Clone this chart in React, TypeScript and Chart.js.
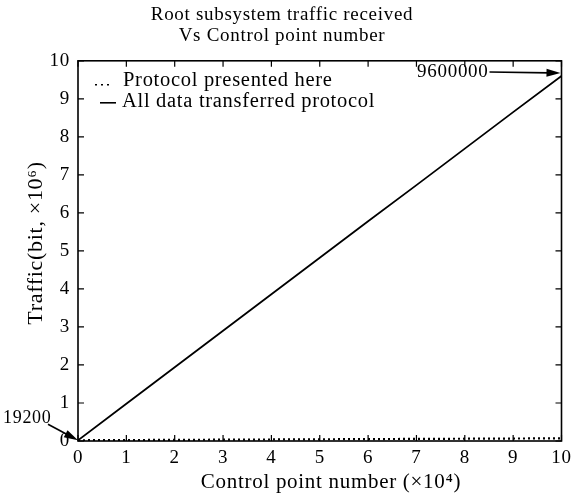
import React, { useEffect, useRef } from "react";
import { Chart, registerables } from "chart.js";

Chart.register(...registerables);

const controlPoints = [0, 1, 2, 3, 4, 5, 6, 7, 8, 9, 10];
const allDataTraffic = [0.0192, 0.98, 1.94, 2.9, 3.86, 4.82, 5.78, 6.73, 7.69, 8.65, 9.6];
const protocolTraffic = [0.0192, 0.025, 0.03, 0.035, 0.04, 0.045, 0.05, 0.055, 0.06, 0.065, 0.07];
const titleLines = ["Root subsystem traffic received", "Vs Control point number"];
const legendLabels = ["Protocol presented here", "All data transferred protocol"];
const xTitle = "Control point number (\u00d710\u2074)";
const yTitle = "Traffic(bit, \u00d710\u2076)";
const endLabel = "9600000";
const startLabel = "19200";

const SERIF = "'Liberation Serif', 'DejaVu Serif', serif";

function arrow(ctx: CanvasRenderingContext2D, x1: number, y1: number, x2: number, y2: number) {
  const ang = Math.atan2(y2 - y1, x2 - x1);
  const hl = 14;
  const hw = 4;
  ctx.beginPath();
  ctx.moveTo(x1, y1);
  ctx.lineTo(x2 - Math.cos(ang) * hl * 0.8, y2 - Math.sin(ang) * hl * 0.8);
  ctx.stroke();
  ctx.beginPath();
  ctx.moveTo(x2, y2);
  ctx.lineTo(x2 - Math.cos(ang) * hl + Math.sin(ang) * hw, y2 - Math.sin(ang) * hl - Math.cos(ang) * hw);
  ctx.lineTo(x2 - Math.cos(ang) * hl - Math.sin(ang) * hw, y2 - Math.sin(ang) * hl + Math.cos(ang) * hw);
  ctx.closePath();
  ctx.fill();
}

const spacingPlugin = {
  id: "spacing",
  beforeDraw(chart: any) {
    (chart.ctx as any).letterSpacing = "0.7px";
  },
};

const framePlugin = {
  id: "frame",
  afterDraw(chart: any) {
    const { ctx, chartArea: a, scales } = chart;
    const xs = scales.x;
    const ys = scales.y;
    ctx.save();
    ctx.strokeStyle = "#000";
    ctx.fillStyle = "#000";
    ctx.lineWidth = 1.6;
    ctx.strokeRect(a.left, a.top, a.right - a.left, a.bottom - a.top);
    ctx.lineWidth = 1.2;
    const tl = 6;
    for (const v of controlPoints) {
      const px = xs.getPixelForValue(v);
      const py = ys.getPixelForValue(v);
      ctx.beginPath();
      ctx.moveTo(px, a.bottom);
      ctx.lineTo(px, a.bottom - tl);
      ctx.moveTo(px, a.top);
      ctx.lineTo(px, a.top + tl);
      ctx.moveTo(a.left, py);
      ctx.lineTo(a.left + tl, py);
      ctx.moveTo(a.right, py);
      ctx.lineTo(a.right - tl, py);
      ctx.stroke();
    }
    // axis titles
    ctx.textBaseline = "middle";
    ctx.textAlign = "center";
    ctx.font = "21px " + SERIF;
    ctx.fillText(xTitle, 331, 482);
    ctx.save();
    ctx.translate(36, 243);
    ctx.rotate(-Math.PI / 2);
    ctx.font = "22px " + SERIF;
    ctx.fillText(yTitle, 0, 0);
    ctx.restore();
    // legend
    ctx.font = "20.5px " + SERIF;
    ctx.textAlign = "left";
    const ly1 = a.top + 20;
    const ly2 = a.top + 41;
    ctx.lineWidth = 1.6;
    ctx.setLineDash([2, 4]);
    ctx.beginPath();
    ctx.moveTo(a.left + 17, ly1 + 4);
    ctx.lineTo(a.left + 32, ly1 + 4);
    ctx.stroke();
    ctx.setLineDash([]);
    ctx.beginPath();
    ctx.moveTo(a.left + 22, ly2 + 1);
    ctx.lineTo(a.left + 38, ly2 + 1);
    ctx.stroke();
    ctx.fillText(legendLabels[0], a.left + 45, ly1);
    ctx.fillText(legendLabels[1], a.left + 44, ly2);
    // annotations
    ctx.lineWidth = 1.6;
    ctx.font = "19px " + SERIF;
    const ex = xs.getPixelForValue(controlPoints[controlPoints.length - 1]);
    const ey = ys.getPixelForValue(allDataTraffic[allDataTraffic.length - 1]);
    ctx.textAlign = "right";
    ctx.fillText(endLabel, ex - 73, ey - 4);
    arrow(ctx, ex - 72, ey - 4, ex - 1, ey - 3);
    const sx = xs.getPixelForValue(controlPoints[0]);
    const sy = ys.getPixelForValue(allDataTraffic[0]);
    ctx.font = "18px " + SERIF;
    ctx.textAlign = "left";
    ctx.fillText(startLabel, 3, sy - 22);
    arrow(ctx, sx - 30, sy - 16, sx, sy);
    ctx.restore();
  },
};

export default function App() {
  const ref = useRef<HTMLCanvasElement | null>(null);
  useEffect(() => {
    if (!ref.current) return;
    const chart = new Chart(ref.current, {
      type: "line",
      data: {
        datasets: [
          {
            label: legendLabels[0],
            data: controlPoints.map((x, i) => ({ x, y: protocolTraffic[i] })),
            borderColor: "#000",
            borderWidth: 2.2,
            borderDash: [2, 3],
            pointRadius: 0,
            fill: false,
          },
          {
            label: legendLabels[1],
            data: controlPoints.map((x, i) => ({ x, y: allDataTraffic[i] })),
            borderColor: "#000",
            borderWidth: 1.8,
            pointRadius: 0,
            fill: false,
          },
        ],
      },
      options: {
        animation: false,
        responsive: true,
        maintainAspectRatio: false,
        layout: { padding: { left: 0, right: 13, top: 0, bottom: 0 } },
        plugins: {
          legend: { display: false },
          tooltip: { enabled: false },
          title: {
            display: true,
            text: titleLines,
            color: "#000",
            font: { family: SERIF, size: 19, weight: "normal", lineHeight: 1.1 },
            padding: { top: 5, bottom: 14 },
          },
        },
        scales: {
          x: {
            type: "linear",
            min: 0,
            max: 10,
            afterFit: (s: any) => {
              s.height = 56;
            },
            grid: { display: false, drawTicks: false },
            border: { display: false },
            ticks: {
              stepSize: 1,
              color: "#000",
              padding: 6,
              font: { family: SERIF, size: 19 },
            },
            title: { display: false, text: xTitle },
          },
          y: {
            type: "linear",
            min: 0,
            max: 10,
            afterFit: (s: any) => {
              s.width = 78;
            },
            grid: { display: false, drawTicks: false },
            border: { display: false },
            ticks: {
              stepSize: 1,
              color: "#000",
              padding: 8,
              font: { family: SERIF, size: 19 },
            },
            title: { display: false, text: yTitle },
          },
        },
      },
      plugins: [spacingPlugin, framePlugin],
    });
    return () => chart.destroy();
  }, []);
  return (
    <div style={{ position: "fixed", left: 0, top: 0, width: 577, height: 497, background: "#fff" }}>
      <canvas ref={ref} />
    </div>
  );
}
